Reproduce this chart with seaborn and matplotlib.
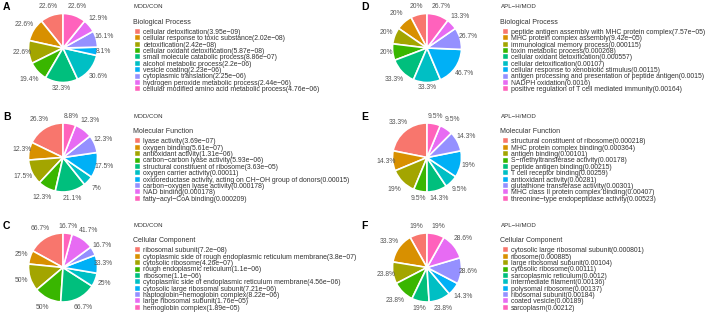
import numpy as np
import matplotlib

matplotlib.use("Agg")
import matplotlib.pyplot as plt
import seaborn as sns

# --- panel A: MOD/CON, Biological Process ---
a_terms = ["cellular detoxification", "cellular response to toxic substance", "detoxification",
           "cellular oxidant detoxification", "small molecule catabolic process",
           "alcohol metabolic process", "vesicle coating", "cytoplasmic translation",
           "hydrogen peroxide metabolic process", "cellular modified amino acid metabolic process"]
a_pvals = ["3.95e−09", "2.02e−08", "2.42e−08", "5.87e−08", "8.86e−07",
           "2.2e−06", "2.23e−06", "2.25e−06", "2.44e−06", "4.76e−06"]
a_ratio = [22.6, 22.6, 22.6, 19.4, 32.3, 30.6, 8.1, 16.1, 12.9, 22.6]

# --- panel B: MOD/CON, Molecular Function ---
b_terms = ["lyase activity", "oxygen binding", "antioxidant activity", "carbon−carbon lyase activity",
           "structural constituent of ribosome", "oxygen carrier activity",
           "oxidoreductase activity, acting on CH−OH group of donors", "carbon−oxygen lyase activity",
           "NAD binding", "fatty−acyl−CoA binding"]
b_pvals = ["3.69e−07", "5.61e−07", "1.31e−06", "5.93e−06", "3.63e−05",
           "0.00011", "0.00015", "0.000178", "0.000178", "0.000209"]
b_ratio = [26.3, 12.3, 17.5, 12.3, 21.1, 7, 17.5, 12.3, 12.3, 8.8]

# --- panel C: MOD/CON, Cellular Component ---
c_terms = ["ribosomal subunit", "cytoplasmic side of rough endoplasmic reticulum membrane",
           "cytosolic ribosome", "rough endoplasmic reticulum", "ribosome",
           "cytoplasmic side of endoplasmic reticulum membrane", "cytosolic large ribosomal subunit",
           "haptoglobin−hemoglobin complex", "large ribosomal subunit", "hemoglobin complex"]
c_pvals = ["7.2e−08", "3.8e−07", "4.26e−07", "1.1e−06", "1.1e−06",
           "4.56e−06", "7.21e−06", "8.22e−06", "1.76e−05", "1.89e−05"]
c_ratio = [66.7, 25, 50, 50, 66.7, 25, 33.3, 16.7, 41.7, 16.7]

# --- panel D: APL−H/MOD, Biological Process ---
d_terms = ["peptide antigen assembly with MHC protein complex", "MHC protein complex assembly",
           "immunological memory process", "toxin metabolic process", "cellular oxidant detoxification",
           "cellular detoxification", "cellular response to xenobiotic stimulus",
           "antigen processing and presentation of peptide antigen", "NADPH oxidation",
           "positive regulation of T cell mediated immunity"]
d_pvals = ["7.57e−05", "9.42e−05", "0.000115", "0.000268", "0.000557",
           "0.00107", "0.00115", "0.0015", "0.0016", "0.00164"]
d_ratio = [20, 20, 20, 20, 33.3, 33.3, 46.7, 26.7, 13.3, 26.7]

# --- panel E: APL−H/MOD, Molecular Function ---
e_terms = ["structural constituent of ribosome", "MHC protein complex binding", "antigen binding",
           "S−methyltransferase activity", "peptide antigen binding", "T cell receptor binding",
           "antioxidant activity", "glutathione transferase activity",
           "MHC class II protein complex binding", "threonine−type endopeptidase activity"]
e_pvals = ["0.000218", "0.000364", "0.00101", "0.00178", "0.00215",
           "0.00259", "0.00281", "0.00301", "0.00407", "0.00523"]
e_ratio = [33.3, 14.3, 19, 9.5, 14.3, 9.5, 19, 14.3, 9.5, 9.5]

# --- panel F: APL−H/MOD, Cellular Component ---
f_terms = ["cytosolic large ribosomal subunit", "ribosome", "large ribosomal subunit", "cytosolic ribosome",
           "sarcoplasmic reticulum", "intermediate filament", "polysomal ribosome", "ribosomal subunit",
           "coated vesicle", "sarcoplasm"]
f_pvals = ["0.000801", "0.000885", "0.00104", "0.00111", "0.0012",
           "0.00136", "0.00137", "0.00184", "0.00189", "0.00212"]
f_ratio = [19, 33.3, 23.8, 23.8, 19, 23.8, 14.3, 28.6, 28.6, 19]

letters = ["A", "B", "C", "D", "E", "F"]
comparisons = ["MOD/CON"] * 3 + ["APL−H/MOD"] * 3
ontologies = ["Biological Process", "Molecular Function", "Cellular Component"] * 2

sns.set_theme(style="white")
plt.rcParams["font.family"] = ["Liberation Sans", "DejaVu Sans"]
palette = sns.color_palette(["#F8766D", "#D89000", "#A3A500", "#39B600", "#00BF7D",
                             "#00BFC4", "#00B0F6", "#9590FF", "#E76BF3", "#FF62BC"])

W, H = 708, 319
fig = plt.figure(figsize=(W / 100, H / 100), dpi=100)

panels = [(a_terms, a_pvals, a_ratio), (b_terms, b_pvals, b_ratio), (c_terms, c_pvals, c_ratio),
          (d_terms, d_pvals, d_ratio), (e_terms, e_pvals, e_ratio), (f_terms, f_pvals, f_ratio)]

row_top = [0, 109.5, 218.5]
for i, (terms, pvals, ratio) in enumerate(panels):
    col, row = divmod(i, 3)
    y0 = row_top[row]
    cx = 63 if col == 0 else 427
    cy = y0 + 48 + (1 if row == 2 else 0)
    r = 34.5
    ax = fig.add_axes([(cx - r) / W, 1 - (cy + r) / H, 2 * r / W, 2 * r / H])
    wedges, _ = ax.pie(ratio, colors=palette, startangle=90, counterclock=True,
                       wedgeprops=dict(edgecolor="white", linewidth=1.2))
    ax.set_xlim(-1, 1)
    ax.set_ylim(-1, 1)
    for w, v in zip(wedges, ratio):
        th = np.deg2rad((w.theta1 + w.theta2) / 2)
        d = 1.15 + 0.18 * abs(np.sin(2 * th))
        ax.text(d * np.cos(th), d * np.sin(th), f"{v:g}%", ha="center", va="center",
                fontsize=4.9, color="#555555")

    # panel letter
    lx = 3 if col == 0 else 361
    fig.text(lx / W, 1 - (y0 + 2.5) / H, letters[i], fontsize=7.5, fontweight="bold",
             va="top", ha="left", color="black")

    # legend titles
    tx = 133 if col == 0 else 500.5
    fig.text(tx / W, 1 - (y0 + 7) / H, comparisons[i], fontsize=4.4, va="center",
             ha="left", color="#333333")
    fig.text(tx / W, 1 - (y0 + 22) / H, ontologies[i], fontsize=5, va="center",
             ha="left", color="#333333")

    labels = [f"{t}({p})" for t, p in zip(terms, pvals)]
    kx = 135 if col == 0 else 502.5
    leg = fig.legend(wedges, labels, loc="upper left",
                     bbox_to_anchor=(kx / W, 1 - (y0 + 28.8) / H),
                     frameon=False, fontsize=4.95, handlelength=0.75, handleheight=0.75,
                     handletextpad=0.45, labelspacing=-0.09, borderpad=0, borderaxespad=0)
    for h in leg.legend_handles:
        h.set_linewidth(0.3)
    for t in leg.get_texts():
        t.set_color("#333333")

fig.savefig("out.png", dpi=100)
